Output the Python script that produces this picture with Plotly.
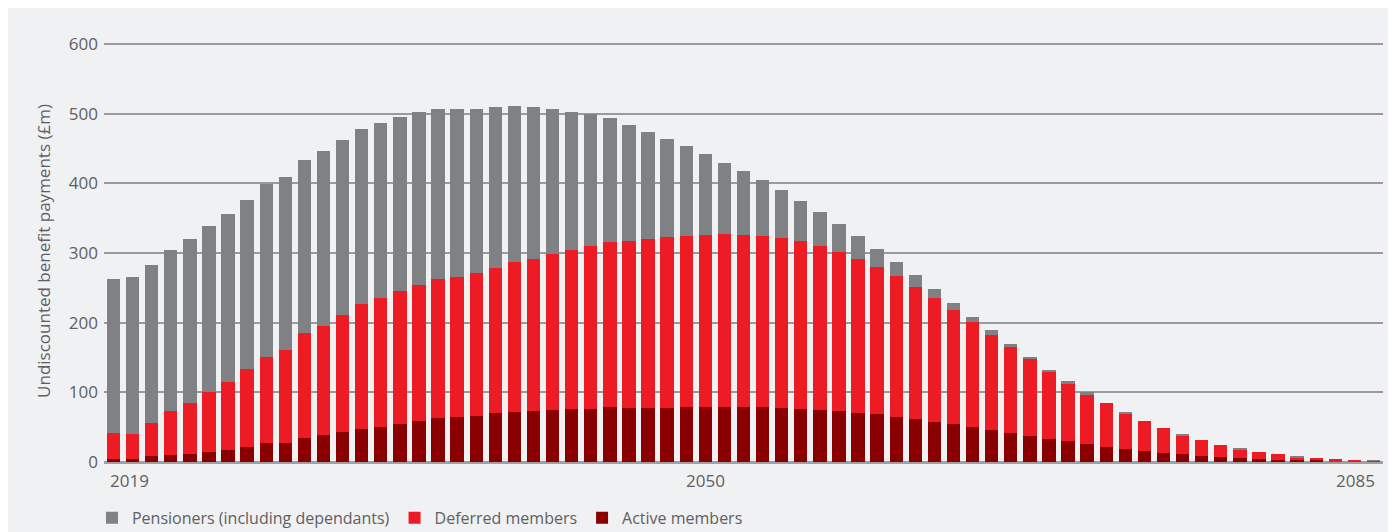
import plotly.graph_objects as go

years = list(range(2019, 2086))

active = [4, 5, 8, 9.6, 11, 14, 16.8, 21, 27, 27, 34, 38.4, 42.7, 47, 50, 54, 58.5, 62.8, 64, 65.7,
          70, 71.5, 72.9, 74.3, 75.8, 75.8, 78.7, 77, 77, 77, 78.7, 78.7, 78.7, 78.7, 78.7, 77, 75.8, 74.3,
          72.9, 70, 68.6, 64.3, 61.4, 57,
          54.2, 49.9, 45.6, 41.2, 36.9, 32.6, 29.7, 25.4, 21.1, 18.2, 15.3, 12.5, 11, 8.2, 6.7, 5.3, 3.8,
          2.4, 2.4, 2.4, 1, 1, 1.4]

deferred = [37, 35, 47.6, 63.4, 73.4, 86, 97.8, 112, 123.6, 133.7, 151, 156.6, 168.3, 180, 185.5, 191.6,
            195.5, 200, 201.7, 205.8,
            208.7, 215.8, 218.7, 224.5, 228.8, 234.5, 237.3, 240.5, 243.4, 246.3, 246, 247.3, 248.9, 247.3,
            246, 244.8, 241.7, 236, 228.8, 221.6, 211.4, 202.7, 189.9, 178.5,
            164, 151.1, 136.7, 123.8, 110.8, 97.9, 83.5, 72, 63.3, 51.8, 43.2, 35.9, 27.4, 23, 17.3, 12.9,
            10.1, 8.6, 4.3, 2.9, 2.8, 1.4, 0.2]

pensioners = [221.8, 225.7, 227.4, 231.5, 235.6, 239, 241.4, 243.5, 248.9, 248.9, 249, 252, 252, 251.7,
              251.5, 250.4, 249, 244.6, 241.7, 235.9,
              231.3, 224.5, 218.4, 208.6, 198.4, 189.5, 178.5, 166.9, 153.9, 141, 129.5, 116.7, 102.1, 92.2,
              80.6, 69.1, 57.5, 48.9, 40.3, 33.1, 26, 20.3, 17.3, 12.9,
              10.1, 7.2, 7.1, 4.3, 2.9, 1.4, 2.8, 2.8, 0, 1.5, 0, 0, 1.4, 0, 0, 1.5, 0, 0, 1.5, 0, 0, 0, 0.8]

y_ticks = [0, 100, 200, 300, 400, 500, 600]
x_labels = [2019, 2050, 2085]

GREY = "#808185"
RED = "#ed1c24"
DARK = "#8a0000"
TXT = "#5f6062"
BG = "#f0f1f3"
FONT = "Open Sans"

fig = go.Figure()
fig.add_trace(go.Bar(x=years, y=active, name="Active members", marker=dict(color=DARK, line_width=0)))
fig.add_trace(go.Bar(x=years, y=deferred, name="Deferred members", marker=dict(color=RED, line_width=0)))
fig.add_trace(go.Bar(x=years, y=pensioners, name="Pensioners (including dependants)",
                     marker=dict(color=GREY, line_width=0)))

annotations = []
anchors = {2019: ("left", -6), 2050: ("center", 0), 2085: ("right", 4)}
for yv in x_labels:
    xa, xs = anchors[yv]
    annotations.append(dict(x=yv, y=0, xref="x", yref="paper", text=str(yv), showarrow=False,
                            xanchor=xa, yanchor="top", xshift=xs, yshift=-5,
                            font=dict(family=FONT, size=17, color=TXT)))

fig.update_layout(
    width=1388, height=524,
    margin=dict(l=96, r=13, t=32, b=70, autoexpand=False),
    paper_bgcolor=BG, plot_bgcolor=BG,
    barmode="stack", bargap=0.3,
    font=dict(family=FONT, color=TXT),
    showlegend=True,
    legend=dict(orientation="h", traceorder="reversed", x=-0.0094, xanchor="left",
                yref="container", y=0.027, yanchor="middle",
                font=dict(family=FONT, size=16, color=TXT), bgcolor="rgba(0,0,0,0)"),
    xaxis=dict(range=[2018.5, 2085.5], showticklabels=False, showgrid=False, zeroline=False,
               showline=False, ticks=""),
    yaxis=dict(range=[0, 606], tickvals=y_ticks, showgrid=True, gridcolor="#9a9a9c", gridwidth=1.5,
               zeroline=True, zerolinecolor="#a0a0a2", zerolinewidth=2.5, showline=False,
               tickfont=dict(family=FONT, size=17, color=TXT), ticklabelstandoff=5,
               title=dict(text="Undiscounted benefit payments (£m)", standoff=13,
                          font=dict(family=FONT, size=17, color=TXT))),
    annotations=annotations,
)

fig.write_html("out.html")
